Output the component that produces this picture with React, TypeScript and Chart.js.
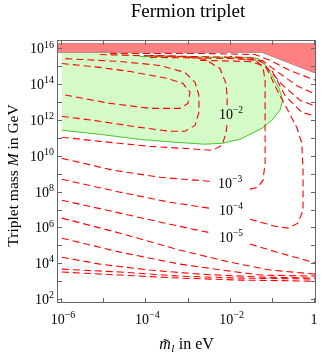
import React, { useEffect, useRef } from "react";
import { Chart, registerables } from "chart.js";
Chart.register(...registerables);

// ---------- text ----------
const TITLE = "Fermion triplet";
const Y_TITLE_PARTS = ["Triplet mass ", "M", " in GeV"];
const X_TITLE_PARTS = ["m", "l", " in eV"];

// ---------- axes (log10 units) ----------
const X_RANGE = [-6.095, 0.047];
const Y_RANGE = [1.78, 16.47];
const xDecades = [-6, -5, -4, -3, -2, -1, 0];
const yDecades = [2, 3, 4, 5, 6, 7, 8, 9, 10, 11, 12, 13, 14, 15, 16];
const xLabelDecades = [-6, -4, -2, 0];
const xLabelBase = ["10", "10", "10", "1"];
const xLabelExp = ["−6", "−4", "−2", ""];
const yLabelDecades = [2, 4, 6, 8, 10, 12, 14, 16];
const yLabelExp = ["2", "4", "6", "8", "10", "12", "14", "16"];

// ---------- excluded band (log10 m, log10 M) ----------
const bandX = [-6.095, 0.047, 0.047, -1.233, -6.095];
const bandY = [16.278, 16.278, 14.605, 15.776, 15.776];

// ---------- green allowed region boundary ----------
const gTopX = [-5.98, -4.13];
const gTopY = [15.78, 15.78];
const gX = [-4.13, -1.52, -1.33, -1.16, -1.0, -0.83, -0.74, -0.81, -1.0, -1.23, -1.76, -2.18, -2.59, -3.3, -4.13, -5.08, -5.98];
const gY = [15.55, 15.5, 15.44, 15.11, 14.49, 13.77, 13.1, 12.54, 11.98, 11.54, 10.92, 10.7, 10.65, 10.76, 10.92, 11.2, 11.43];

// ---------- red dashed contours (null = gap for label) ----------
const u0X = [-5.98, -5.08, -4.36, -3.49, -3.11, -2.94, -2.99, -3.18, -3.89, -4.84, -5.98];
const u0Y = [15.16, 14.94, 14.71, 14.33, 14.05, 13.55, 12.93, 12.65, 12.65, 12.93, 13.43];
const u1X = [-5.98, -5.08, -4.13, -3.42, -3.06, -2.82, -2.73, -2.73, -2.82, -3.06, -3.65, -4.6, -5.98];
const u1Y = [12.21, 11.93, 11.59, 11.37, 11.37, 11.7, 12.43, 13.38, 14.1, 14.66, 15.05, 15.27, 15.44];
const c2X = [-5.98, -5.08, -3.89, -2.78, -2.4, -2.18, -2.09, -2.06, null, -2.06, -2.06, -2.09, -2.23, -2.59, -3.06, -4.36, -5.08];
const c2Y = [11.04, 10.81, 10.53, 10.37, 10.31, 10.59, 11.26, 11.76, null, 12.82, 13.38, 14.05, 14.88, 15.39, 15.55, 15.61, 15.66];
const c3X = [-5.98, -4.77, -3.65, -2.47, null, -1.52, -1.33, -1.21, -1.16, -1.16, -1.16, -1.21, -1.38, -1.87, -2.94, -3.89];
const c3Y = [9.86, 9.2, 8.8, 8.58, null, 8.14, 8.25, 8.64, 9.59, 11.98, 14.21, 14.94, 15.33, 15.5, 15.55, 15.61];
const c4X = [-5.98, -4.6, -3.42, -2.47, null, -1.52, -0.93, -0.62, -0.38, -0.26, -0.26, -0.29, -0.4, -0.62, -0.85, -1.04, -1.19, -1.4, -1.99];
const c4Y = [8.69, 7.97, 7.41, 7.07, null, 6.46, 6.07, 5.96, 6.24, 6.96, 9.2, 10.7, 11.54, 12.54, 13.55, 14.49, 15.16, 15.44, 15.55];
const c5X = [-5.98, -4.6, -3.42, -2.42, null, -1.52, -0.81, 0.047];
const c5Y = [7.52, 6.8, 6.18, 5.68, null, 5.07, 4.57, 4.01];
const c6X = [-5.98, -4.6, -3.18, -1.99, -1.04, 0.047];
const c6Y = [6.52, 5.68, 4.73, 4.06, 3.62, 3.39];
const c7X = [-5.98, -4.6, -3.18, -1.99, -1.28, 0.047];
const c7Y = [5.4, 4.62, 3.95, 3.56, 3.34, 3.28];
const c8X = [-5.98, -5.08, -3.89, -2.7, -1.28, 0.047];
const c8Y = [4.34, 3.95, 3.62, 3.39, 3.23, 3.17];
const c9X = [-5.98, -4.6, -3.18, -1.75, 0.047];
const c9Y = [3.67, 3.51, 3.28, 3.17, 3.12];
const c10X = [-5.98, -4.6, -3.18, -1.75, 0.047];
const c10Y = [3.51, 3.34, 3.17, 3.06, 3.0];
const f1X = [-4.84, -2.7, -1.4, -1.04, -0.57, 0.047];
const f1Y = [15.72, 15.72, 15.66, 15.33, 14.77, 14.21];
const f2X = [-3.89, -1.99, -1.23, -0.85, -0.38, 0.047];
const f2Y = [15.5, 15.44, 15.33, 14.66, 13.88, 13.43];
const f3X = [-2.7, -1.52, -1.14, -0.76, -0.33, 0.047];
const f3Y = [15.33, 15.27, 14.99, 13.99, 13.1, 12.76];
const f4X = [-1.0, -0.69, -0.29, 0.047];
const f4Y = [14.77, 13.38, 12.43, 12.21];

// ---------- contour labels ----------
const labelX = [-1.97, -1.99, -1.97, -1.97];
const labelY = [12.32, 8.47, 6.96, 5.46];
const labelExp = ["−2", "−3", "−4", "−5"];

const FONT = "'Liberation Serif', 'Times New Roman', serif";
const RED = "rgb(255,0,0)";

function pts(xs: (number | null)[], ys: (number | null)[]) {
  return xs.map((x, i) => ({ x: x === null ? NaN : x, y: ys[i] === null ? NaN : (ys[i] as number) }));
}

function dashed(xs: (number | null)[], ys: (number | null)[]) {
  return {
    data: pts(xs, ys),
    borderColor: RED,
    borderWidth: 1.1,
    borderDash: [7, 4],
    fill: false,
    pointRadius: 0,
    spanGaps: false,
    order: 1,
  };
}

function drawPow(ctx: CanvasRenderingContext2D, base: string, exp: string, x: number, y: number, bs: number, es: number, align: string) {
  ctx.font = `${bs}px ${FONT}`;
  const wb = ctx.measureText(base).width;
  ctx.font = `${es}px ${FONT}`;
  const we = exp ? ctx.measureText(exp).width : 0;
  const total = wb + we;
  let x0 = x;
  if (align === "center") x0 = x - total / 2;
  else if (align === "right") x0 = x - total;
  ctx.textAlign = "left";
  ctx.textBaseline = "alphabetic";
  ctx.font = `${bs}px ${FONT}`;
  ctx.fillText(base, x0, y);
  if (exp) {
    ctx.font = `${es}px ${FONT}`;
    ctx.fillText(exp, x0 + wb, y - bs * 0.42);
  }
}

const decor = {
  id: "decor",
  beforeDraw(chart: any) {
    const ctx = chart.ctx;
    ctx.save();
    ctx.fillStyle = "#fff";
    ctx.fillRect(0, 0, chart.width, chart.height);
    ctx.restore();
  },
  afterDraw(chart: any) {
    const ctx: CanvasRenderingContext2D = chart.ctx;
    const { left, right, top, bottom } = chart.chartArea;
    const xs = chart.scales.x;
    const ys = chart.scales.y;
    ctx.save();
    ctx.fillStyle = "#000";
    // contour labels
    for (let i = 0; i < labelX.length; i++) {
      const px = xs.getPixelForValue(labelX[i]);
      const py = ys.getPixelForValue(labelY[i]);
      drawPow(ctx, "10", labelExp[i], px, py + 5, 14, 9.5, "center");
    }
    // frame
    ctx.strokeStyle = "#666";
    ctx.lineWidth = 1;
    ctx.strokeRect(left + 0.5, top + 0.5, right - left - 1, bottom - top - 1);
    ctx.beginPath();
    const tl = 5;
    for (const d of xDecades) {
      const px = Math.round(xs.getPixelForValue(d)) + 0.5;
      ctx.moveTo(px, bottom);
      ctx.lineTo(px, bottom - tl);
      ctx.moveTo(px, top);
      ctx.lineTo(px, top + tl);
    }
    for (const d of yDecades) {
      const py = Math.round(ys.getPixelForValue(d)) + 0.5;
      ctx.moveTo(left, py);
      ctx.lineTo(left + tl, py);
      ctx.moveTo(right, py);
      ctx.lineTo(right - tl, py);
    }
    ctx.stroke();
    // tick labels
    ctx.fillStyle = "#000";
    for (let i = 0; i < xLabelDecades.length; i++) {
      const px = xs.getPixelForValue(xLabelDecades[i]);
      drawPow(ctx, xLabelBase[i], xLabelExp[i], px + (xLabelExp[i] ? 2 : 0), bottom + 21, 14, 10, "center");
    }
    for (let i = 0; i < yLabelDecades.length; i++) {
      const py = ys.getPixelForValue(yLabelDecades[i]);
      drawPow(ctx, "10", yLabelExp[i], left - 3, py + 5, 14, 10, "right");
    }
    // title
    ctx.font = `19px ${FONT}`;
    ctx.textAlign = "center";
    ctx.textBaseline = "alphabetic";
    ctx.fillText(TITLE, 188, 17);
    // x title
    const cx = (left + right) / 2;
    const by = 349;
    ctx.font = `italic 16px ${FONT}`;
    const wm = ctx.measureText(X_TITLE_PARTS[0]).width;
    ctx.font = `italic 11px ${FONT}`;
    const wl = ctx.measureText(X_TITLE_PARTS[1]).width;
    ctx.font = `16px ${FONT}`;
    const wr = ctx.measureText(X_TITLE_PARTS[2]).width;
    const total = wm + wl + 1 + wr;
    const x0 = cx - total / 2;
    ctx.textAlign = "left";
    ctx.font = `italic 16px ${FONT}`;
    ctx.fillText(X_TITLE_PARTS[0], x0, by);
    ctx.font = `16px ${FONT}`;
    ctx.textAlign = "center";
    ctx.fillText("˜", x0 + wm / 2 + 1, by + 1);
    ctx.textAlign = "left";
    ctx.font = `italic 11px ${FONT}`;
    ctx.fillText(X_TITLE_PARTS[1], x0 + wm + 0.5, by + 3);
    ctx.font = `16px ${FONT}`;
    ctx.fillText(X_TITLE_PARTS[2], x0 + wm + wl + 1, by);
    // y title (rotated)
    ctx.save();
    ctx.translate(14, (top + bottom) / 2 + 4);
    ctx.rotate(-Math.PI / 2);
    const fonts = [`15.5px ${FONT}`, `italic 15.5px ${FONT}`, `15.5px ${FONT}`];
    let wsum = 0;
    const widths: number[] = [];
    for (let i = 0; i < Y_TITLE_PARTS.length; i++) {
      ctx.font = fonts[i];
      const w = ctx.measureText(Y_TITLE_PARTS[i]).width;
      widths.push(w);
      wsum += w;
    }
    let yx = -wsum / 2;
    ctx.textAlign = "left";
    ctx.textBaseline = "middle";
    for (let i = 0; i < Y_TITLE_PARTS.length; i++) {
      ctx.font = fonts[i];
      ctx.fillText(Y_TITLE_PARTS[i], yx, 0);
      yx += widths[i];
    }
    ctx.restore();
    ctx.restore();
  },
};

export default function App() {
  const ref = useRef<HTMLCanvasElement | null>(null);
  useEffect(() => {
    if (!ref.current) return;
    const datasets: any[] = [
      {
        data: pts([...gTopX, ...gX], [...gTopY, ...gY]),
        fill: "shape",
        backgroundColor: "rgb(212,250,200)",
        borderWidth: 0,
        borderColor: "rgba(0,0,0,0)",
        pointRadius: 0,
        order: 4,
      },
      {
        data: pts(bandX, bandY),
        fill: "shape",
        backgroundColor: "rgb(255,128,128)",
        borderColor: "rgb(180,120,120)",
        borderWidth: 0.8,
        pointRadius: 0,
        order: 3,
      },
      {
        data: pts(gX, gY),
        fill: false,
        borderColor: "rgb(70,200,40)",
        borderWidth: 1,
        pointRadius: 0,
        order: 2,
      },
      dashed(u0X, u0Y),
      dashed(u1X, u1Y),
      dashed(c2X, c2Y),
      dashed(c3X, c3Y),
      dashed(c4X, c4Y),
      dashed(c5X, c5Y),
      dashed(c6X, c6Y),
      dashed(c7X, c7Y),
      dashed(c8X, c8Y),
      dashed(c9X, c9Y),
      dashed(c10X, c10Y),
      dashed(f1X, f1Y),
      dashed(f2X, f2Y),
      dashed(f3X, f3Y),
      dashed(f4X, f4Y),
    ];
    const chart = new Chart(ref.current, {
      type: "line",
      data: { datasets },
      options: {
        animation: false,
        responsive: false,
        devicePixelRatio: 1,
        layout: { padding: { left: 57, top: 40, right: 9, bottom: 51 } },
        elements: { line: { tension: 0 }, point: { radius: 0 } },
        plugins: { legend: { display: false }, title: { display: false }, tooltip: { enabled: false } },
        scales: {
          x: { type: "linear", min: X_RANGE[0], max: X_RANGE[1], display: false },
          y: { type: "linear", min: Y_RANGE[0], max: Y_RANGE[1], display: false },
        },
      } as any,
      plugins: [decor],
    });
    return () => chart.destroy();
  }, []);
  return (
    <div style={{ position: "fixed", left: 0, top: 0, width: 325, height: 354, background: "#fff" }}>
      <canvas ref={ref} width={325} height={354} style={{ display: "block" }} />
    </div>
  );
}
